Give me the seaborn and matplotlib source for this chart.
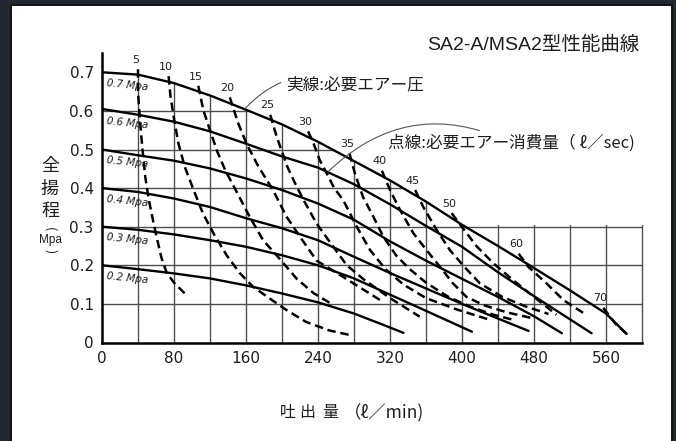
import numpy as np
import pandas as pd
import matplotlib
matplotlib.use("Agg")
import matplotlib.pyplot as plt
import seaborn as sns
from matplotlib.path import Path
from matplotlib.patches import PathPatch, Rectangle

# ---------------------------------------------------------------- data
# Discharge flow (l/min) vs total head (MPa) for each supply air pressure
p07_flow = [0, 40, 80, 120, 160, 200, 240, 280, 320, 360, 400, 440, 480, 520, 560, 583]
p07_head = [0.700, 0.694, 0.672, 0.640, 0.603, 0.565, 0.520, 0.470, 0.420, 0.365, 0.305, 0.250, 0.193, 0.135, 0.075, 0.022]
p06_flow = [0, 40, 80, 120, 160, 200, 240, 280, 320, 360, 400, 440, 480, 520, 544]
p06_head = [0.605, 0.590, 0.572, 0.547, 0.515, 0.482, 0.453, 0.410, 0.358, 0.302, 0.248, 0.182, 0.120, 0.060, 0.024]
p05_flow = [0, 40, 80, 120, 160, 200, 240, 280, 320, 360, 400, 440, 480, 511]
p05_head = [0.500, 0.485, 0.471, 0.451, 0.425, 0.395, 0.360, 0.318, 0.262, 0.212, 0.165, 0.118, 0.068, 0.024]
p04_flow = [0, 40, 80, 120, 160, 200, 240, 280, 320, 360, 400, 440, 474]
p04_head = [0.400, 0.390, 0.373, 0.351, 0.322, 0.296, 0.265, 0.222, 0.180, 0.140, 0.100, 0.062, 0.030]
p03_flow = [0, 40, 80, 120, 160, 200, 240, 280, 320, 360, 411]
p03_head = [0.300, 0.292, 0.280, 0.265, 0.248, 0.226, 0.200, 0.166, 0.124, 0.082, 0.028]
p02_flow = [0, 40, 80, 120, 160, 200, 240, 280, 310, 335]
p02_head = [0.200, 0.190, 0.179, 0.166, 0.148, 0.127, 0.104, 0.075, 0.048, 0.025]
pressure_names = ["0.7 Mpa", "0.6 Mpa", "0.5 Mpa", "0.4 Mpa", "0.3 Mpa", "0.2 Mpa"]
pressure_levels = [0.7, 0.6, 0.5, 0.4, 0.3, 0.2]

# Air consumption iso-lines (l/sec)
air_names = ["5", "10", "15", "20", "25", "30", "35", "40", "45", "50", "60", "70"]
a05_flow = [40, 40, 42, 45, 48, 52, 57, 61, 66, 72, 80, 92]
a05_head = [0.708, 0.650, 0.580, 0.500, 0.430, 0.370, 0.313, 0.270, 0.220, 0.180, 0.155, 0.127]
a10_flow = [74, 76, 80, 85, 92, 101, 112, 125, 138.5, 153, 168, 187, 205, 227, 253, 276]
a10_head = [0.690, 0.640, 0.580, 0.515, 0.455, 0.400, 0.335, 0.278, 0.226, 0.180, 0.144, 0.113, 0.084, 0.053, 0.031, 0.019]
a15_flow = [107, 112.6, 120, 128, 137, 151.5, 164, 179, 197, 216, 235, 255]
a15_head = [0.665, 0.602, 0.550, 0.495, 0.446, 0.382, 0.326, 0.265, 0.218, 0.166, 0.128, 0.100]
a20_flow = [142, 151.5, 161, 174, 190, 205, 220, 238.5, 261, 285, 309]
a20_head = [0.635, 0.567, 0.513, 0.455, 0.395, 0.326, 0.274, 0.212, 0.180, 0.145, 0.110]
a25_flow = [187, 192, 198, 206, 215, 224, 238.5, 257, 272, 290, 320, 353]
a25_head = [0.590, 0.549, 0.507, 0.455, 0.410, 0.369, 0.308, 0.248, 0.200, 0.165, 0.115, 0.067]
a30_flow = [229, 235, 242, 248, 258, 268, 283, 298, 315, 335, 360, 395, 432]
a30_head = [0.547, 0.516, 0.472, 0.446, 0.400, 0.369, 0.300, 0.239, 0.190, 0.150, 0.115, 0.085, 0.058]
a35_flow = [275, 281, 290, 301.5, 312.6, 327, 342, 360, 385, 410, 435, 458]
a35_head = [0.490, 0.438, 0.377, 0.326, 0.274, 0.225, 0.190, 0.155, 0.118, 0.092, 0.072, 0.058]
a40_flow = [311, 320, 331, 346, 360.7, 375.6, 390, 405, 425, 450, 480]
a40_head = [0.445, 0.395, 0.344, 0.283, 0.239, 0.196, 0.153, 0.118, 0.096, 0.078, 0.062]
a45_flow = [348, 357, 372, 386.7, 403, 420, 445, 470, 496]
a45_head = [0.395, 0.351, 0.291, 0.239, 0.195, 0.153, 0.118, 0.094, 0.074]
a50_flow = [388.5, 399.7, 416, 435, 455, 480, 505]
a50_head = [0.335, 0.300, 0.250, 0.205, 0.165, 0.118, 0.072]
a60_flow = [463, 473.7, 494, 512.6, 538.5]
a60_head = [0.230, 0.196, 0.153, 0.110, 0.071]
a70_flow = [557, 570, 585]
a70_head = [0.090, 0.050, 0.018]

x_ticks = [0, 80, 160, 240, 320, 400, 480, 560]
y_ticks = [0, 0.1, 0.2, 0.3, 0.4, 0.5, 0.6, 0.7]
y_tick_labels = ["0", "0.1", "0.2", "0.3", "0.4", "0.5", "0.6", "0.7"]
grid_x = [40, 80, 120, 160, 200, 240, 280, 320, 360, 400, 440, 480, 520, 560, 600]
grid_y = [0.1, 0.2, 0.3, 0.4, 0.5, 0.6]
box_head = 0.3      # the open grid box on the right stops at this head
x_max = 600
y_max = 0.75

solid_sets = [(p07_flow, p07_head), (p06_flow, p06_head), (p05_flow, p05_head),
              (p04_flow, p04_head), (p03_flow, p03_head), (p02_flow, p02_head)]
dash_sets = [(a05_flow, a05_head), (a10_flow, a10_head), (a15_flow, a15_head),
             (a20_flow, a20_head), (a25_flow, a25_head), (a30_flow, a30_head),
             (a35_flow, a35_head), (a40_flow, a40_head), (a45_flow, a45_head),
             (a50_flow, a50_head), (a60_flow, a60_head), (a70_flow, a70_head)]

solid_df = pd.concat([pd.DataFrame({"flow": f, "head": h, "curve": n})
                      for (f, h), n in zip(solid_sets, pressure_names)], ignore_index=True)
dash_df = pd.concat([pd.DataFrame({"flow": f, "head": h, "curve": n})
                     for (f, h), n in zip(dash_sets, air_names)], ignore_index=True)

# ---------------------------------------------------------------- style
sns.set_theme(style="white")
plt.rcParams["font.family"] = ["DejaVu Sans", "Noto Sans CJK JP"]
jp = ["Noto Sans CJK JP", "DejaVu Sans"]
ink = "#1e1e1e"

fig = plt.figure(figsize=(6.76, 4.41), dpi=100)
fig.patch.set_facecolor("#23272f")
W, H = 676.0, 441.0
fig.patches.append(Rectangle((11 / W, -0.01), (672 - 11) / W, (441 - 5) / H + 0.01,
                             transform=fig.transFigure, facecolor="white",
                             edgecolor="#111111", lw=1.4, zorder=-5))

ax = fig.add_axes([102 / W, (H - 342.5) / H, 540 / W, 289.5 / H])
ax.set_zorder(2)
ax.set_facecolor("none")
ax.set_xlim(0, x_max)
ax.set_ylim(0, y_max)

# grid, clipped to the area under the 0.7 MPa curve plus the lower box
cross = float(np.interp(box_head, p07_head[::-1], p07_flow[::-1]))
outline = [(0, 0), (0, p07_head[0])]
outline += [(f, h) for f, h in zip(p07_flow, p07_head) if h > box_head]
outline += [(cross, box_head + 0.004), (x_max + 3, box_head + 0.004), (x_max + 3, 0), (0, 0)]
clip = PathPatch(Path(outline), transform=ax.transData, facecolor="none", edgecolor="none")
ax.add_patch(clip)
vl = ax.vlines(grid_x, 0, y_max, colors="#4d4d4d", lw=1.0, zorder=1)
hl = ax.hlines(grid_y, 0, x_max, colors="#4d4d4d", lw=1.0, zorder=1)
for coll in (vl, hl):
    coll.set_clip_path(clip)
    coll.set_clip_box(None)

# pressure curves (solid) and air-consumption curves (dashed)
sns.lineplot(data=solid_df, x="flow", y="head", units="curve", estimator=None,
             sort=False, color="black", lw=1.7, ax=ax, zorder=3)
sns.lineplot(data=dash_df, x="flow", y="head", units="curve", estimator=None,
             sort=False, color="black", lw=1.8, linestyle=(0, (3.4, 1.9)),
             ax=ax, zorder=3)

# curve labels
for name, level in zip(pressure_names, pressure_levels):
    ax.text(4, level - 0.033, name, fontsize=7.5, style="italic", color=ink,
            ha="left", va="center", rotation=-6, family="DejaVu Sans", zorder=4)
for name, (f, h) in zip(air_names, dash_sets):
    ax.text(f[0] - 3, h[0] + 0.024, name, fontsize=8, color=ink,
            ha="center", va="center", zorder=4)

# callouts
ax.annotate("実線:必要エアー圧", xy=(159, 0.606), xytext=(205, 0.666),
            fontsize=12, family=jp, color=ink, ha="left", va="center",
            arrowprops=dict(arrowstyle="-", color="#555555", lw=0.8,
                            connectionstyle="arc3,rad=0.35", shrinkA=2, shrinkB=0))
ax.annotate("点線:必要エアー消費量（ ℓ／sec)", xy=(251, 0.442), xytext=(318, 0.516),
            fontsize=12, family=jp, color=ink, ha="left", va="center",
            arrowprops=dict(arrowstyle="-", color="#555555", lw=0.8,
                            connectionstyle="arc3,rad=0.35", shrinkA=2, shrinkB=0))

# axes
for side in ("top", "right"):
    ax.spines[side].set_visible(False)
for side in ("left", "bottom"):
    ax.spines[side].set_color("black")
    ax.spines[side].set_linewidth(1.8)
    ax.spines[side].set_zorder(5)
ax.set_xticks(x_ticks)
ax.set_xticklabels([str(t) for t in x_ticks])
ax.set_yticks(y_ticks)
ax.set_yticklabels(y_tick_labels)
ax.tick_params(length=0, labelsize=11, colors=ink)
ax.tick_params(axis="x", pad=6)
ax.tick_params(axis="y", pad=6)
ax.set_xlabel("")
ax.set_ylabel("")
ax.grid(False)

# titles
fig.text(640 / W, 1 - 45 / H, "SA2-A/MSA2型性能曲線", fontsize=14, color=ink,
         ha="right", va="center", family=["Liberation Sans", "Noto Sans CJK JP"])
# x-axis title, widely spaced characters
for ch, xpx in zip(["吐", "出", "量"], [288, 307, 330]):
    fig.text(xpx / W, 1 - 413 / H, ch, fontsize=11.5, color=ink,
             ha="center", va="center", family=jp)
fig.text(344 / W, 1 - 413 / H, "（ℓ／min)", fontsize=12.5, color=ink,
         ha="left", va="center", family=jp)
# y-axis title, stacked vertically
for ch, ypx in zip(["全", "揚", "程"], [166, 189, 211]):
    fig.text(50 / W, 1 - ypx / H, ch, fontsize=13, color=ink, ha="center",
             va="center", family=jp)
fig.text(50 / W, 1 - 229 / H, "(", fontsize=9, color=ink, ha="center",
         va="center", rotation=-90, family=jp)
fig.text(50 / W, 1 - 240 / H, "Mpa", fontsize=8.5, color=ink, ha="center",
         va="center", family=["Liberation Sans", "DejaVu Sans"])
fig.text(50 / W, 1 - 251 / H, ")", fontsize=9, color=ink, ha="center",
         va="center", rotation=-90, family=jp)

fig.savefig("out.png", dpi=100, facecolor=fig.get_facecolor())
